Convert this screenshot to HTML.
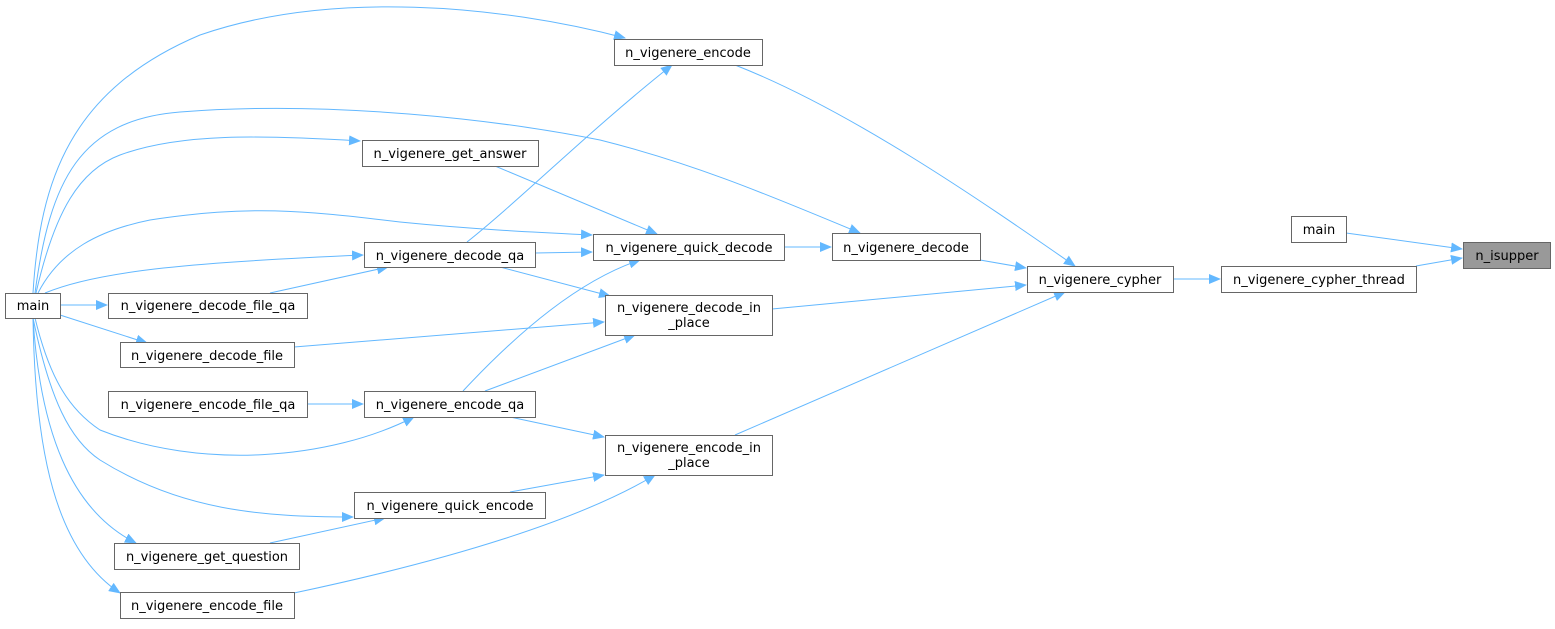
<!DOCTYPE html>
<html><head><meta charset="utf-8"><style>
body{margin:0;background:#fff;width:1555px;height:624px;overflow:hidden}
text{font-family:"DejaVu Sans","Liberation Sans",sans-serif;font-size:13px;fill:#000}
</style></head><body>
<svg width="1555" height="624" viewBox="0 0 1555 624" xmlns="http://www.w3.org/2000/svg">
<defs><marker id="a" markerWidth="12" markerHeight="10" refX="11" refY="5" orient="auto" markerUnits="userSpaceOnUse"><path d="M0,0 L12,5 L0,10 z" fill="#63b8ff"/></marker></defs>
<g fill="none" stroke="#63b8ff" stroke-width="1" marker-end="url(#a)">
<path d="M33,293 C40,180 70,90 200,35 C330,-10 500,5 625,38"/>
<path d="M35,293 C50,180 80,120 180,112 C330,100 500,120 600,140 C700,165 780,200 860,233"/>
<path d="M36,293 C55,210 80,170 120,155 C180,133 260,135 360,141"/>
<path d="M38,293 C60,250 100,230 150,220 C250,205 300,210 400,222 C480,230 550,233 592,235"/>
<path d="M45,293 C100,270 200,262 363,255"/>
<path d="M60,305 L107,305"/>
<path d="M60,315 L147,343"/>
<path d="M35,318 C50,380 70,410 100,430 C200,470 330,460 414,417"/>
<path d="M33,318 C50,400 70,440 100,460 C180,510 260,517 353,517"/>
<path d="M33,318 C40,430 70,510 136,543"/>
<path d="M33,318 C35,450 55,550 120,593"/>
<path d="M270,293 L388,267"/>
<path d="M294,347 L604,322"/>
<path d="M307,404 L363,404"/>
<path d="M270,543 L385,518"/>
<path d="M495,166 L657,234"/>
<path d="M535,253 L592,252"/>
<path d="M467,242 C520,200 590,130 672,65"/>
<path d="M500,267 L610,296"/>
<path d="M463,391 C520,330 580,280 640,260"/>
<path d="M485,391 L635,335"/>
<path d="M510,417 L604,437"/>
<path d="M510,492 L604,475"/>
<path d="M294,593 C450,560 580,520 655,475"/>
<path d="M784,247 L831,247"/>
<path d="M735,65 C850,110 980,200 1075,266"/>
<path d="M980,260 L1026,268"/>
<path d="M772,309 L1026,285"/>
<path d="M735,435 L1065,292"/>
<path d="M1173,279 L1220,279"/>
<path d="M1416,266 L1462,258"/>
<path d="M1346,233 L1462,249"/>
</g>
<g stroke="#666" stroke-width="1" fill="#fff">
<rect x="5.5" y="293.5" width="55" height="25"/>
<rect x="108.5" y="293.5" width="199" height="25"/>
<rect x="614.5" y="39.5" width="148" height="26"/>
<rect x="362.5" y="140.5" width="176" height="26"/>
<rect x="364.5" y="242.5" width="171" height="25"/>
<rect x="593.5" y="234.5" width="191" height="26"/>
<rect x="605.5" y="295.5" width="167" height="40"/>
<rect x="120.5" y="342.5" width="174" height="25"/>
<rect x="108.5" y="391.5" width="199" height="26"/>
<rect x="364.5" y="391.5" width="171" height="26"/>
<rect x="605.5" y="435.5" width="167" height="40"/>
<rect x="354.5" y="492.5" width="191" height="26"/>
<rect x="114.5" y="543.5" width="185" height="26"/>
<rect x="120.5" y="592.5" width="174" height="26"/>
<rect x="832.5" y="233.5" width="148" height="27"/>
<rect x="1027.5" y="266.5" width="146" height="26"/>
<rect x="1221.5" y="266.5" width="195" height="26"/>
<rect x="1291.5" y="216.5" width="55" height="26"/>
<rect x="1463.5" y="242.5" width="87" height="26" fill="#999"/>
</g>
<g text-anchor="middle">
<text x="33" y="310">main</text>
<text x="208" y="310">n_vigenere_decode_file_qa</text>
<text x="688" y="57">n_vigenere_encode</text>
<text x="450" y="158">n_vigenere_get_answer</text>
<text x="450" y="260">n_vigenere_decode_qa</text>
<text x="689" y="252">n_vigenere_quick_decode</text>
<text x="689" y="312">n_vigenere_decode_in</text>
<text x="689" y="327">_place</text>
<text x="207" y="360">n_vigenere_decode_file</text>
<text x="208" y="409">n_vigenere_encode_file_qa</text>
<text x="450" y="409">n_vigenere_encode_qa</text>
<text x="689" y="452">n_vigenere_encode_in</text>
<text x="689" y="467">_place</text>
<text x="450" y="510">n_vigenere_quick_encode</text>
<text x="207" y="561">n_vigenere_get_question</text>
<text x="207" y="610">n_vigenere_encode_file</text>
<text x="906" y="252">n_vigenere_decode</text>
<text x="1100" y="284">n_vigenere_cypher</text>
<text x="1319" y="284">n_vigenere_cypher_thread</text>
<text x="1319" y="234">main</text>
<text x="1507" y="260">n_isupper</text>
</g>
</svg>
</body></html>
